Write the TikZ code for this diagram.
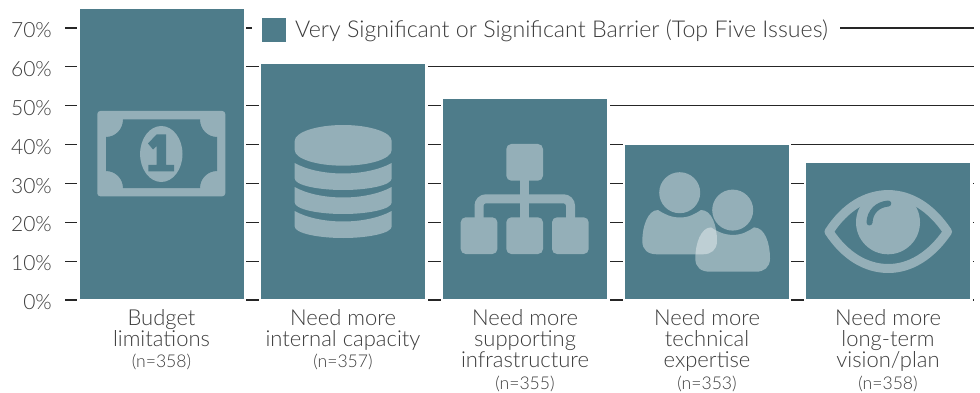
\documentclass[tikz,border=0pt]{standalone}
\usepackage{fontspec}
\setmainfont{Lato Light}
\definecolor{barteal}{HTML}{4E7C8A}
\definecolor{iconlight}{HTML}{94AFB8}
\definecolor{inktext}{HTML}{3C3C3C}
\tikzset{
  x=1pt,y=-1pt,
  grid/.style={draw=black!85,line width=1.2pt},
  halo/.style={fill=white,draw=none},
  barfill/.style={fill=barteal,draw=none},
  ico/.style={fill=iconlight,draw=none},
  cut/.style={fill=barteal,draw=none},
  axis/.style={anchor=east,text=inktext,font=\fontsize{21}{21}\selectfont,inner sep=0pt},
  cat/.style={anchor=north,align=center,text=inktext,inner sep=0pt,font=\fontsize{22}{21.3}\selectfont},
  nlab/.style={anchor=north,text=inktext,inner sep=0pt,font=\fontsize{17.6}{18}\selectfont},
  person/.style={fill=white,fill opacity=.4,draw=none},
}
\begin{document}
\begin{tikzpicture}
\useasboundingbox (0,0) rectangle (980,393);
% gridlines
\foreach \yy in {28,66.9,105.8,144.7,183.6,222.4,261.2,300}{
  \draw[grid] (65,\yy) -- (974,\yy);
}
% halos
\foreach \xa/\xb/\yt in {79.5/243.5/8.5,261/425/64,443/607/99,625/788.5/145,806/970/163}{
  \fill[halo] (\xa-2.5,\yt-1) rectangle (\xb+2.5,303);
}
\fill[halo] (252,8) rectangle (840,52);
% bars
\node[barfill,inner sep=0pt,minimum width=164pt,minimum height=290.5pt,anchor=north west] (bara) at (79.5,8.5) {};
\node[barfill,inner sep=0pt,minimum width=164pt,minimum height=235pt,anchor=north west] (barb) at (261,64) {};
\node[barfill,inner sep=0pt,minimum width=164pt,minimum height=200pt,anchor=north west] (barc) at (443,99) {};
\node[barfill,inner sep=0pt,minimum width=163.5pt,minimum height=154pt,anchor=north west] (bard) at (625,145) {};
\node[barfill,inner sep=0pt,minimum width=164pt,minimum height=136pt,anchor=north west] (bare) at (806,163) {};
% legend
\node[barfill,inner sep=0pt,minimum width=24pt,minimum height=24pt,anchor=north west] (legswatch) at (262,18) {};
\node[anchor=west,inner sep=0pt,text=inktext,font=\fontsize{23.2}{23.2}\selectfont] (legtext) at (295,31) {Very Significant or Significant Barrier (Top Five Issues)};
% axis labels
\foreach \yy/\tt in {28/70,66.9/60,105.8/50,144.7/40,183.6/30,222.4/20,261.2/10,300/0}{
  \node[axis] (ax\tt) at (52,\yy+2) {\tt\%};
}
% money icon
\fill[ico,rounded corners=3pt] (97.3,111) rectangle (225.3,196.3);
\fill[cut] (106,137) .. controls (115.4,137) and (123,129.4) .. (123,119.5) -- (200,119.5)
  .. controls (200,129.4) and (207.6,137) .. (217,137) -- (217,171)
  .. controls (207.6,171) and (200,178.6) .. (200,188) -- (123,188)
  .. controls (123,178.6) and (115.4,171) .. (106,171) -- cycle;
\fill[ico] (161.3,154) ellipse[x radius=21.2,y radius=28];
\fill[cut] (156.7,134.3) -- (166,134.3) -- (166,165) -- (174,165) -- (174,171.3) -- (148.3,171.3) -- (148.3,165) -- (156.7,165) -- (156.7,146) -- (153,149.5) -- (148,143.5) -- cycle;
% database icon
\fill[ico] (294.7,141) .. controls (294.7,132) and (317,125) .. (343.2,125) .. controls (369,125) and (391.7,132) .. (391.7,141) -- (391.7,150) .. controls (391.7,159) and (369,165.7) .. (343.2,165.7) .. controls (317,165.7) and (294.7,159) .. (294.7,150) -- cycle;
\foreach \dy in {0,24,48}{
  \fill[ico] (294.7,163+\dy) .. controls (305,169+\dy) and (323,173.5+\dy) .. (343.2,173.5+\dy) .. controls (363,173.5+\dy) and (381,169+\dy) .. (391.7,163+\dy) -- (391.7,178.5+\dy) .. controls (391.7,185+\dy) and (369,190+\dy) .. (343.2,190+\dy) .. controls (317,190+\dy) and (294.7,185+\dy) .. (294.7,178.5+\dy) -- cycle;
}
% hierarchy icon
\draw[draw=iconlight,line width=9pt] (524.7,180) -- (524.7,218);
\draw[draw=iconlight,line width=9pt,rounded corners=7pt] (479,218) -- (479,198.8) -- (570.5,198.8) -- (570.5,218);
\fill[ico,rounded corners=5pt] (506.3,144) rectangle (543,180.7);
\fill[ico,rounded corners=5pt] (460.7,217.3) rectangle (497.4,254);
\fill[ico,rounded corners=5pt] (506.3,217.3) rectangle (543,254);
\fill[ico,rounded corners=5pt] (552,217.3) rectangle (588.7,254);
% people icon
\foreach \dx/\dy in {0/0,53/17.4}{
  \fill[ico] (679.7+\dx,192.7+\dy) circle[radius=20.5];
  \fill[person] (658+\dx,210+\dy) .. controls (664+\dx,214+\dy) and (671+\dx,217.5+\dy) .. (680+\dx,217.5+\dy) .. controls (689+\dx,217.5+\dy) and (695+\dx,214+\dy) .. (701+\dx,210+\dy) .. controls (712+\dx,210+\dy) and (717+\dx,226+\dy) .. (717+\dx,241+\dy) .. controls (717+\dx,250+\dy) and (711+\dx,254.3+\dy) .. (703+\dx,254.3+\dy) -- (657+\dx,254.3+\dy) .. controls (648+\dx,254.3+\dy) and (642.3+\dx,250+\dy) .. (642.3+\dx,241+\dy) .. controls (642.3+\dx,226+\dy) and (648+\dx,210+\dy) .. (658+\dx,210+\dy) -- cycle;
}
% eye icon
\draw[draw=iconlight,line width=9pt,line join=round] (829,231.7) .. controls (845,207) and (866,194.6) .. (888.3,194.6) .. controls (910,194.6) and (931,207) .. (947.5,231.7) .. controls (931,256) and (910,268.5) .. (888.3,268.5) .. controls (866,268.5) and (845,256) .. (829,231.7) -- cycle;
\fill[ico] (888,222.3) circle[radius=32];
\draw[draw=barteal,line width=6pt,line cap=round] (869.5,222.5) .. controls (870,212) and (877,204.5) .. (888.3,203.5);
% category labels
\node[cat] (cata) at (161.5,309) {Budget\\limitations};
\node[nlab] (na) at (161.5,353.5) {(n=358)};
\node[cat] (catb) at (343,309) {Need more\\internal capacity};
\node[nlab] (nb) at (343,353.5) {(n=357)};
\node[cat] (catc) at (525,309) {Need more\\supporting\\infrastructure};
\node[nlab] (nc) at (525,375.5) {(n=355)};
\node[cat] (catd) at (707,309) {Need more\\technical\\expertise};
\node[nlab] (nd) at (707,375.5) {(n=353)};
\node[cat] (cate) at (888,309) {Need more\\long-term\\vision/plan};
\node[nlab] (ne) at (888,375.5) {(n=358)};
\end{tikzpicture}
\end{document}
